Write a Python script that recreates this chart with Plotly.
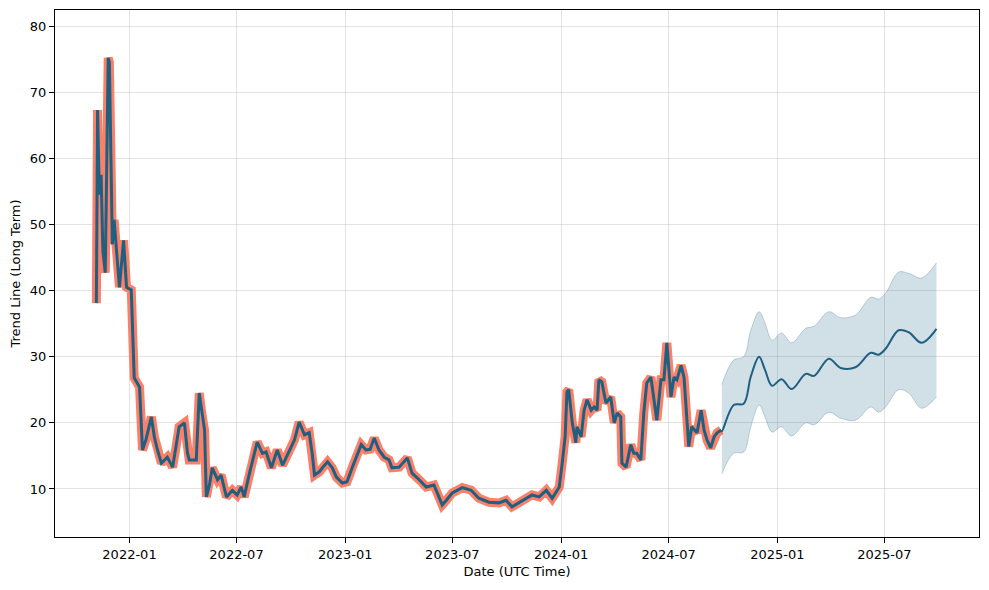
import plotly.graph_objects as go

hist_dates = [
    "2021-11-06", "2021-11-08", "2021-11-11", "2021-11-14", "2021-11-17", "2021-11-21",
    "2021-11-26", "2021-11-28", "2021-12-03", "2021-12-06", "2021-12-11", "2021-12-15",
    "2021-12-22", "2021-12-27", "2022-01-04", "2022-01-07", "2022-01-09", "2022-01-18",
    "2022-01-23", "2022-01-29", "2022-02-07", "2022-02-12", "2022-02-17", "2022-02-24",
    "2022-03-06", "2022-03-15", "2022-03-21", "2022-03-26", "2022-04-04", "2022-04-09",
    "2022-04-12", "2022-04-24", "2022-04-29", "2022-05-04", "2022-05-08", "2022-05-11",
    "2022-05-16", "2022-05-21", "2022-05-30", "2022-06-05", "2022-06-14", "2022-06-24",
    "2022-07-02", "2022-07-09", "2022-07-14", "2022-07-23", "2022-07-31", "2022-08-05",
    "2022-08-14", "2022-08-20", "2022-08-29", "2022-09-08", "2022-09-17", "2022-09-28",
    "2022-10-07", "2022-10-15", "2022-10-24", "2022-11-01", "2022-11-06", "2022-11-10",
    "2022-11-18", "2022-11-27", "2022-12-02", "2022-12-10", "2022-12-17", "2022-12-27",
    "2023-01-04", "2023-01-13", "2023-01-21", "2023-01-28", "2023-02-05", "2023-02-12",
    "2023-02-19", "2023-02-27", "2023-03-08", "2023-03-16", "2023-03-21", "2023-04-02",
    "2023-04-16", "2023-04-24", "2023-05-06", "2023-05-18", "2023-05-31", "2023-06-09",
    "2023-06-14", "2023-06-21", "2023-07-01", "2023-07-18", "2023-08-02", "2023-08-15",
    "2023-09-01", "2023-09-18", "2023-09-30", "2023-10-10", "2023-10-22", "2023-11-03",
    "2023-11-13", "2023-11-25", "2023-12-07", "2023-12-17", "2023-12-29", "2024-01-03",
    "2024-01-08", "2024-01-11", "2024-01-14", "2024-01-20", "2024-01-26", "2024-01-28",
    "2024-02-04", "2024-02-09", "2024-02-14", "2024-02-21", "2024-02-26", "2024-03-02",
    "2024-03-05", "2024-03-10", "2024-03-17", "2024-03-25", "2024-03-31", "2024-04-05",
    "2024-04-11", "2024-04-13", "2024-04-20", "2024-04-28", "2024-05-03", "2024-05-08",
    "2024-05-15", "2024-05-20", "2024-05-25", "2024-06-01", "2024-06-06", "2024-06-11",
    "2024-06-18", "2024-06-23", "2024-06-28", "2024-07-05", "2024-07-10", "2024-07-15",
    "2024-07-22", "2024-07-27", "2024-08-01", "2024-08-04", "2024-08-09", "2024-08-18",
    "2024-08-25", "2024-08-30", "2024-09-04", "2024-09-10", "2024-09-16", "2024-09-21",
    "2024-09-28",
]
hist_values = [
    38.1, 67.3, 54.5, 57.5, 46.0, 42.7,
    75.2, 74.5, 47.0, 50.7, 45.0, 40.5,
    47.6, 40.5, 40.1, 30.0, 26.8, 25.4,
    15.9, 17.5, 20.9, 17.9, 16.0, 13.9,
    14.8, 13.3, 16.5, 19.4, 20.0, 15.5,
    14.4, 14.4, 24.5, 21.0, 18.9, 8.8,
    10.5, 13.2, 11.4, 12.1, 8.8, 9.8,
    9.1, 10.3, 8.8, 12.4, 15.4, 17.1,
    15.4, 15.6, 13.2, 15.9, 13.6, 15.6,
    17.4, 20.1, 18.2, 18.5, 15.4, 12.1,
    12.6, 13.6, 14.1, 13.2, 11.8, 10.9,
    11.1, 13.3, 15.1, 16.7, 15.9, 16.0,
    17.7, 15.9, 14.8, 14.4, 13.2, 13.3,
    14.7, 12.4, 11.4, 10.3, 10.6, 8.8,
    7.6, 8.3, 9.4, 10.2, 9.8, 8.6,
    8.0, 7.9, 8.3, 7.3, 7.9, 8.5,
    9.1, 8.8, 9.8, 8.6, 10.3, 13.9,
    18.0, 24.7, 25.0, 20.0, 17.0, 19.4,
    17.9, 21.9, 23.5, 21.9, 22.4, 21.9,
    26.5, 26.2, 23.0, 23.9, 20.0, 21.5,
    20.9, 13.9, 13.3, 16.7, 15.4, 15.4,
    14.4, 21.5, 26.0, 26.9, 23.5, 20.4,
    26.5, 26.5, 32.1, 23.9, 26.9, 26.5,
    28.7, 26.9, 20.4, 16.4, 19.4, 18.5,
    21.9, 18.9, 17.4, 16.2, 17.9, 18.5,
    18.9,
]

# ---- forecast (trend line and uncertainty band) ----
fc_dates = [
    "2024-09-29", "2024-10-19", "2024-11-05", "2024-11-17", "2024-12-01", "2024-12-11",
    "2024-12-23", "2025-01-08", "2025-01-25", "2025-02-18", "2025-03-04", "2025-03-29",
    "2025-04-18", "2025-05-13", "2025-06-08", "2025-06-21", "2025-07-03", "2025-07-25",
    "2025-08-11", "2025-09-02", "2025-09-27",
]
fc_yhat = [
    18.7, 22.7, 22.9, 27.0, 30.0, 28.0,
    25.6, 26.6, 25.1, 27.4, 27.1, 29.7,
    28.3, 28.4, 30.6, 30.3, 31.2, 34.0,
    33.7, 32.1, 34.2,
]
fc_lower = [
    12.3, 15.4, 15.6, 19.4, 22.7, 20.9,
    18.6, 19.4, 18.0, 20.0, 19.7, 21.6,
    20.7, 20.4, 22.4, 21.6, 22.4, 25.0,
    24.5, 22.2, 23.9,
]
fc_upper = [
    25.8, 29.5, 30.0, 34.0, 36.8, 35.1,
    32.5, 33.6, 32.1, 34.3, 34.6, 36.8,
    35.9, 36.3, 39.0, 38.7, 39.6, 42.8,
    42.6, 41.9, 44.2,
]

x_tick_vals = ["2022-01-01", "2022-07-01", "2023-01-01", "2023-07-01",
               "2024-01-01", "2024-07-01", "2025-01-01", "2025-07-01"]
x_tick_text = ["2022-01", "2022-07", "2023-01", "2023-07",
               "2024-01", "2024-07", "2025-01", "2025-07"]
y_tick_vals = [10, 20, 30, 40, 50, 60, 70, 80]

LINE = "#1f5f80"
SALMON = "#fa8069"

fig = go.Figure()

# uncertainty band
fig.add_trace(go.Scatter(x=fc_dates, y=fc_upper, mode="lines",
                         line=dict(color="rgba(25,95,130,0.25)", width=1, shape="spline"),
                         hoverinfo="skip", showlegend=False))
fig.add_trace(go.Scatter(x=fc_dates, y=fc_lower, mode="lines", fill="tonexty",
                         fillcolor="rgba(25,95,130,0.2)",
                         line=dict(color="rgba(25,95,130,0.25)", width=1, shape="spline"),
                         hoverinfo="skip", showlegend=False))

# actual history (thick salmon)
fig.add_trace(go.Scatter(x=hist_dates, y=hist_values, mode="lines",
                         line=dict(color=SALMON, width=9),
                         showlegend=False))

# fitted trend line (history + forecast)
fig.add_trace(go.Scatter(x=hist_dates, y=hist_values, mode="lines",
                         line=dict(color=LINE, width=3),
                         showlegend=False))
fig.add_trace(go.Scatter(x=[hist_dates[-1]] + fc_dates, y=[hist_values[-1]] + fc_yhat,
                         mode="lines", line=dict(color=LINE, width=2, shape="spline"),
                         showlegend=False))

axis_common = dict(
    showline=True, linecolor="black", linewidth=1, mirror=True,
    ticks="outside", ticklen=5, tickcolor="black", tickwidth=1,
    showgrid=True, gridcolor="rgba(176,176,176,0.35)", gridwidth=1,
    zeroline=False,
    tickfont=dict(family="DejaVu Sans", size=13, color="black"),
)

fig.update_layout(
    width=989, height=590,
    margin=dict(l=47, r=18, t=2, b=61, autoexpand=False),
    paper_bgcolor="white", plot_bgcolor="white",
    font=dict(family="DejaVu Sans", size=13, color="black"),
    xaxis=dict(type="date", range=["2021-08-28", "2025-12-08"],
               tickvals=x_tick_vals, ticktext=x_tick_text,
               title=dict(text="Date (UTC Time)", font=dict(size=13), standoff=6),
               automargin=False,
               **axis_common),
    yaxis=dict(range=[2.74, 82.42], tickvals=y_tick_vals,
               title=dict(text="Trend Line (Long Term)", font=dict(size=13), standoff=8),
               automargin=False,
               **axis_common),
)

fig.write_html("out.html")
